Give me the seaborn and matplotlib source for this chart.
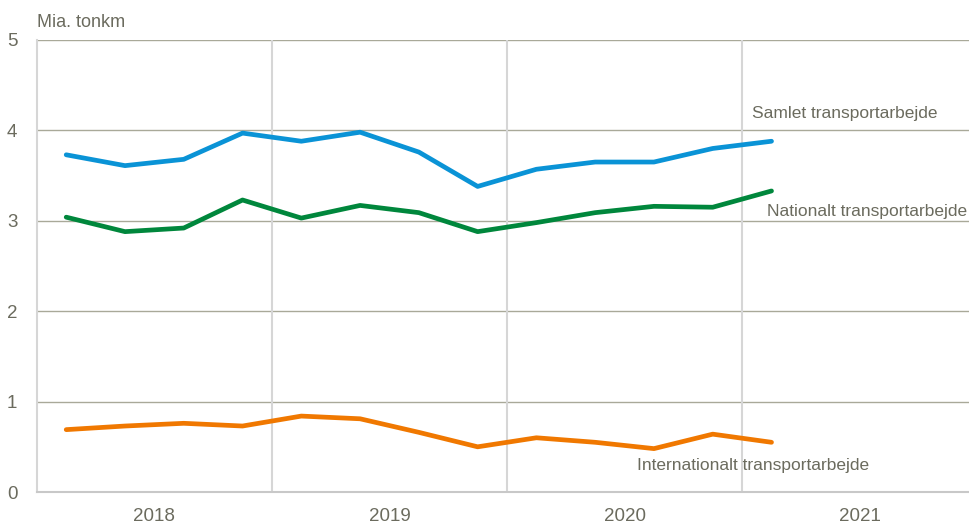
import pandas as pd
import numpy as np
import matplotlib.pyplot as plt
import seaborn as sns

# kvartaler 2018K1 - 2021K1
kvartaler = ["2018K1", "2018K2", "2018K3", "2018K4",
             "2019K1", "2019K2", "2019K3", "2019K4",
             "2020K1", "2020K2", "2020K3", "2020K4",
             "2021K1"]

samlet = [3.73, 3.61, 3.68, 3.97, 3.88, 3.98, 3.76, 3.38, 3.57, 3.65, 3.65, 3.80, 3.88]
nationalt = [3.04, 2.88, 2.92, 3.23, 3.03, 3.17, 3.09, 2.88, 2.98, 3.09, 3.16, 3.15, 3.33]
international = [0.69, 0.73, 0.76, 0.73, 0.84, 0.81, 0.66, 0.50, 0.60, 0.55, 0.48, 0.64, 0.55]

aar = ["2018", "2019", "2020", "2021"]
serier = ["Samlet transportarbejde", "Nationalt transportarbejde",
          "Internationalt transportarbejde"]

farver = ["#0a93d6", "#00873c", "#f07800"]
tekst = "#6b6b5e"

df = pd.DataFrame({
    "pos": np.arange(len(kvartaler)).tolist() * 3,
    "værdi": samlet + nationalt + international,
    "serie": [s for s in serier for _ in kvartaler],
})

sns.set_style("white")
plt.rcParams["font.family"] = ["Liberation Sans", "DejaVu Sans"]
fs = 12.5

fig = plt.figure(figsize=(9.69, 5.26), dpi=100)
ax = fig.add_axes([0.038, 0.0646, 0.962, 0.8594])

sns.lineplot(
    data=df,
    x="pos",
    y="værdi",
    hue="serie",
    palette=farver,
    linewidth=3.4,
    legend=False,
    ax=ax
)
for line in ax.lines:
    line.set_solid_capstyle("round")

ax.set_xlim(-0.5, 15.36)
ax.set_ylim(0, 5)

# gitter
for y in range(1, 6):
    ax.axhline(y, color="#a9a999", lw=1, zorder=0)
for xv in [3.5, 7.5, 11.5]:
    ax.axvline(xv, color="#d6d6d6", lw=1.5, zorder=0)

ax.set_xticks([1.5, 5.5, 9.5, 13.5])
ax.set_xticklabels(aar)
ax.set_yticks(range(0, 6))
ax.tick_params(axis="both", length=0, labelsize=13.5, colors=tekst)
ax.tick_params(axis="x", pad=11.5)
ax.tick_params(axis="y", pad=14)
ax.set_xlabel("")
ax.set_ylabel("")

for s in ["top", "right"]:
    ax.spines[s].set_visible(False)
ax.spines["left"].set_color("#d6d6d6")
ax.spines["left"].set_linewidth(1.5)
ax.spines["bottom"].set_color("#c8c8c8")
ax.spines["bottom"].set_linewidth(1.5)

fig.text(0.038, 0.958, "Mia. tonkm", color=tekst, fontsize=13, va="center")

ax.text(11.67, 4.19, serier[0], color=tekst, fontsize=fs, va="center")
ax.text(11.93, 3.10, serier[1], color=tekst, fontsize=fs, va="center")
ax.text(9.71, 0.29, serier[2], color=tekst, fontsize=fs, va="center")

fig.savefig("out.png", dpi=100)
